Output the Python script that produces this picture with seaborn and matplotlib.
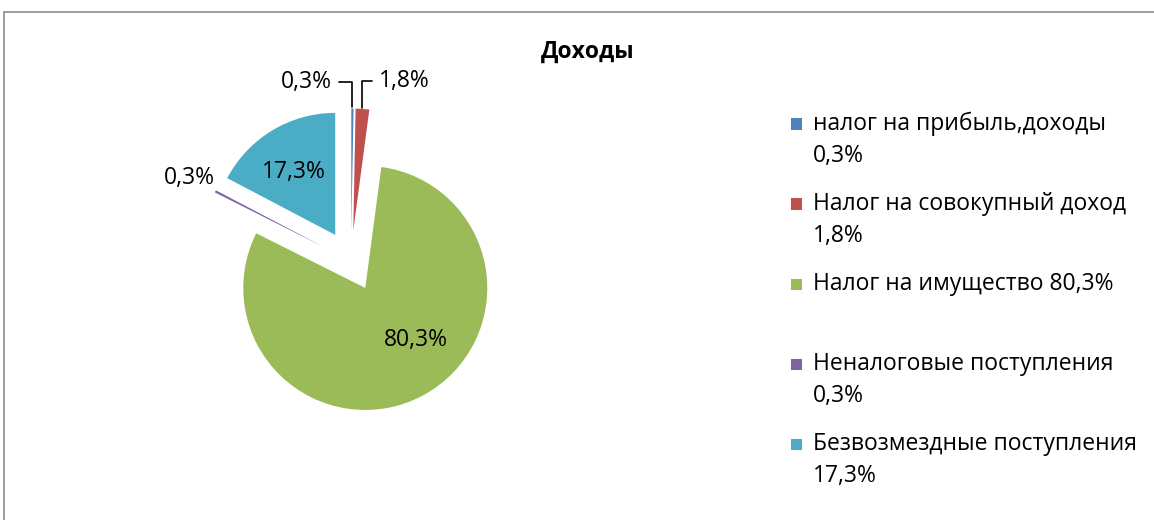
import numpy as np
import seaborn as sns
import matplotlib
matplotlib.use("Agg")
import matplotlib.pyplot as plt
from matplotlib.patches import Rectangle
from matplotlib.lines import Line2D

sns.set_theme(style="white")
plt.rcParams["font.family"] = ["Open Sans", "DejaVu Sans"]

# data
categories = ["налог на прибыль,доходы", "Налог на совокупный доход",
              "Налог на имущество", "Неналоговые поступления",
              "Безвозмездные поступления"]
values = [0.3, 1.8, 80.3, 0.3, 17.3]
pct_labels = ["0,3%", "1,8%", "80,3%", "0,3%", "17,3%"]
colors = sns.color_palette(["#4F81BD", "#C0504D", "#9BBB59", "#8064A2", "#4BACC6"])
title = "Доходы"

# layout in pixels
W, H = 1154, 520
R = 122
cx, cy = 351, 261
half = 200
FS = 16.5

fig = plt.figure(figsize=(W / 100, H / 100), dpi=100)
fig.patch.set_facecolor("white")

# cropped chart frame (left + top edges visible)
fig.add_artist(Line2D([4 / W, 4 / W], [0, 1 - 12 / H], color="#8c8c8c", lw=1.2))
fig.add_artist(Line2D([4 / W, 1], [1 - 12 / H, 1 - 12 / H], color="#8c8c8c", lw=1.2))

ax = fig.add_axes([(cx - half) / W, (H - cy - half) / H, 2 * half / W, 2 * half / H])
wedges, _ = ax.pie(values, colors=colors, startangle=90, counterclock=False,
                   explode=[0.25] * len(values), radius=1,
                   wedgeprops=dict(linewidth=0))
lim = half / R
ax.set_xlim(-lim, lim)
ax.set_ylim(-lim, lim)
ax.axis("off")

# data labels
label_mode = ["leader", "leader", "inside", "outside", "inside"]
leader_offset = {0: (-46, 27), 1: (42, 28)}
inside_nudge = {2: (0.13, 0.11), 4: (-0.02, -0.01)}
for i, w in enumerate(wedges):
    mid = np.deg2rad((w.theta1 + w.theta2) / 2)
    d = np.array([np.cos(mid), np.sin(mid)])
    c = np.array(w.center)
    if label_mode[i] == "inside":
        p = c + 0.61 * d + np.array(inside_nudge[i])
        ax.text(p[0], p[1], pct_labels[i], ha="center", va="center",
                fontsize=FS, color="black")
    elif label_mode[i] == "outside":
        p = c + 1.24 * d
        ax.text(p[0], p[1], pct_labels[i], ha="center", va="center",
                fontsize=FS, color="black")
    else:
        xy = c + 1.0 * d
        off = leader_offset[i]
        ax.annotate(pct_labels[i], xy=xy, xytext=off, textcoords="offset pixels",
                    ha="center", va="center", fontsize=FS, color="black",
                    arrowprops=dict(arrowstyle="-", color="black", lw=1.2,
                                    connectionstyle="angle,angleA=0,angleB=90,rad=0",
                                    relpos=(1, 0.5) if off[0] < 0 else (0, 0.5),
                                    shrinkA=3, shrinkB=1))

# title
fig.text(588 / W, 1 - 52 / H, title, ha="center", va="center",
         fontsize=16.5, fontweight="bold", color="black")

# legend (manual, Excel-like: fixed slot per entry, wrapped labels)
leg_x, leg_y0, leg_step, line_h = 813, 124, 80, 32
for i, (name, pct) in enumerate(zip(categories, pct_labels)):
    full = f"{name} {pct}"
    lines = [full] if len(full) <= 26 else [name, pct]
    y = leg_y0 + i * leg_step
    fig.add_artist(Rectangle(((leg_x - 22) / W, 1 - (y + 5.5) / H), 11 / W, 11 / H,
                             transform=fig.transFigure, facecolor=colors[i],
                             edgecolor="none"))
    for j, ln in enumerate(lines):
        fig.text(leg_x / W, 1 - (y + j * line_h) / H, ln, ha="left", va="center",
                 fontsize=FS, color="black")

fig.savefig("out.png", dpi=100)
